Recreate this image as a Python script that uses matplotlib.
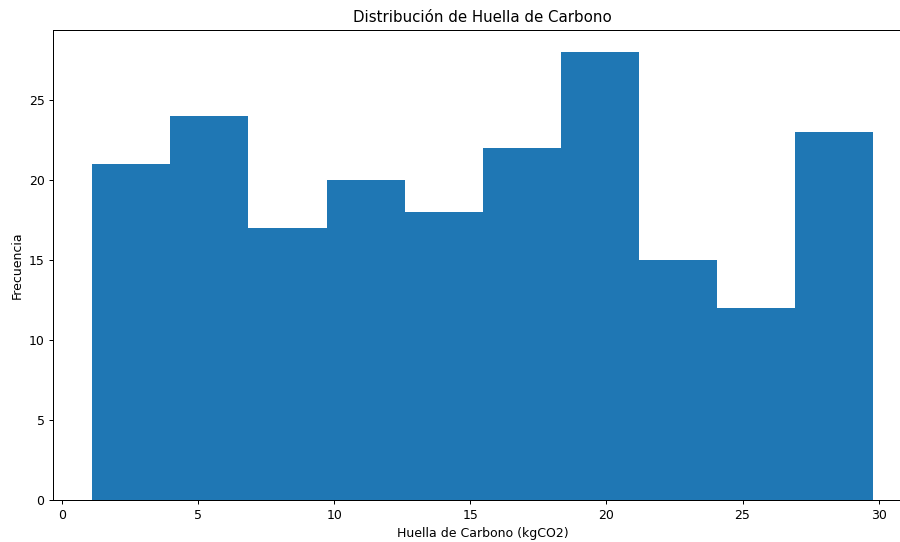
import numpy as np
import matplotlib
matplotlib.use("Agg")
import matplotlib.pyplot as plt

bin_start = 1.12
bin_width = 2.867
counts = [21, 24, 17, 20, 18, 22, 28, 15, 12, 23]
edges = [bin_start + i * bin_width for i in range(len(counts) + 1)]
centers = [(edges[i] + edges[i + 1]) / 2 for i in range(len(counts))]

fig = plt.figure(figsize=(10, 542 / 90), dpi=90)
ax = fig.add_axes([53.3 / 900, 42 / 542, (912 - 53.3) / 900, 470 / 542])
ax.hist(centers, bins=edges, weights=counts, color="#1f77b4")
ax.set_title("Distribución de Huella de Carbono")
ax.set_xlabel("Huella de Carbono (kgCO2)")
ax.set_ylabel("Frecuencia")
fig.savefig("out.png", dpi=90)
